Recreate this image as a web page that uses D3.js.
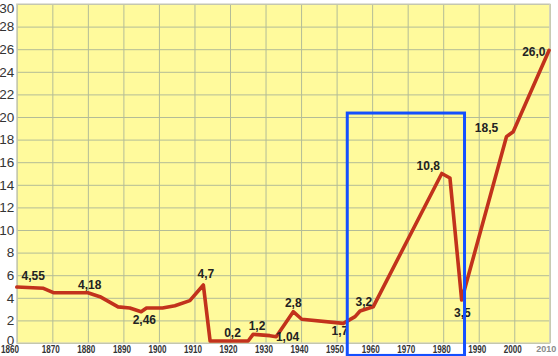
<!DOCTYPE html>
<html>
<head>
<meta charset="utf-8">
<script src="https://cdn.jsdelivr.net/npm/d3@7"></script>
<style>
  html, body { margin: 0; padding: 0; background: #ffffff; }
  svg { display: block; }
</style>
</head>
<body>
<svg id="chart" width="558" height="356"></svg>
<script>
// ---- data ----
const years  = [1860, 1867.5, 1870.3, 1880, 1883.4, 1888.5, 1891.8, 1895, 1896.5, 1901, 1904.5, 1908.7, 1912.5, 1914.4, 1925.1, 1926.5, 1931.2, 1933, 1937.8, 1940.2, 1951.9, 1955.2, 1956.6, 1960.3, 1979.6, 1981.9, 1985.2, 1997.8, 1999.7, 2009.8];
const values = [4.95, 4.84, 4.45, 4.45, 4.1, 3.2, 3.1, 2.77, 3.1, 3.1, 3.3, 3.75, 5.13, 0.18, 0.18, 0.77, 0.65, 0.56, 2.77, 2.1, 1.74, 2.33, 2.83, 3.2, 15.0, 14.6, 3.8, 18.26, 18.7, 25.9];

const labelTexts  = ["4,55", "4,18", "2,46", "4,7", "0,2", "1,2", "1,04", "2,8", "1,7", "3,2", "3,5", "10,8", "18,5", "26,0"];
const labelYears  = [1864.6, 1880.5, 1895.9, 1913.2, 1920.7, 1927.6, 1936.2, 1937.8, 1950.9, 1957.7, 1985.4, 1975.8, 1992.2, 2005.5];
const labelValues = [5.93, 5.13, 2.04, 6.08, 0.91, 1.5, 0.56, 3.51, 1.09, 3.65, 2.68, 15.69, 19.0, 25.78];

const xTickYears  = [1860, 1870, 1880, 1890, 1900, 1910, 1920, 1930, 1940, 1950, 1960, 1970, 1980, 1990, 2000, 2010];
const yTickValues = [0, 2, 4, 6, 8, 10, 12, 14, 16, 18, 20, 22, 24, 26, 28, 30];

const highlightYears  = [1953, 1986];
const highlightValues = [-1.1, 20.35];

// ---- layout ----
const svg = d3.select("#chart");
const x = d3.scaleLinear().domain([1860, 2010]).range([16.8, 549.8]);
const y = d3.scaleLinear().domain([0, 30]).range([343, 4]);

// plot background
svg.append("rect")
  .attr("x", x(1860)).attr("y", y(30))
  .attr("width", x(2010) - x(1860)).attr("height", y(0) - y(30))
  .attr("fill", "#fffa9c");

// grid
const grid = svg.append("g").attr("stroke", "#b3bc97").attr("stroke-width", 1);
grid.selectAll("line.h").data(yTickValues).join("line")
  .attr("x1", x(1860)).attr("x2", x(2010))
  .attr("y1", d => y(d) + 0.5).attr("y2", d => y(d) + 0.5);
grid.selectAll("line.v").data(xTickYears).join("line")
  .attr("y1", y(30)).attr("y2", y(0))
  .attr("x1", d => x(d) + 0.5).attr("x2", d => x(d) + 0.5);

// border
svg.append("rect")
  .attr("x", x(1860)).attr("y", y(30))
  .attr("width", x(2010) - x(1860)).attr("height", y(0) - y(30))
  .attr("fill", "none").attr("stroke", "#cfcfc0").attr("stroke-width", 1.2);

// y axis labels
const yAxis = d3.axisLeft(y).tickValues(yTickValues).tickSize(0).tickPadding(2).tickFormat(d3.format("d"));
const gy = svg.append("g").attr("transform", `translate(${x(1860) - 0.5},0)`).call(yAxis);
gy.select(".domain").remove();
gy.selectAll("text")
  .attr("font-family", "Liberation Sans, Arial, sans-serif")
  .attr("font-size", 13.5).attr("fill", "#333")
  .attr("dy", d => d === 30 ? "0.62em" : (d === 0 ? "0.12em" : "0.32em"));

// x axis labels
const xAxis = d3.axisBottom(x).tickValues(xTickYears).tickSize(0).tickPadding(2.5).tickFormat(d3.format("d"));
const gx = svg.append("g").attr("transform", `translate(0,${y(0)})`).call(xAxis);
gx.select(".domain").remove();
const xl = gx.selectAll("text")
  .attr("font-family", "Liberation Sans, Arial, sans-serif")
  .attr("font-weight", "bold")
  .attr("font-size", d => d === 2010 ? 9 : 10.5)
  .attr("fill", d => d === 2010 ? "#8a8a8a" : "#333")
  .attr("text-anchor", d => d === 1860 ? "start" : (d === 2010 ? "end" : "middle"))
  .attr("dx", d => d === 1860 ? -16.3 : (d === 2010 ? 6 : -2));
xl.filter(d => d !== 2010)
  .attr("textLength", 18).attr("lengthAdjust", "spacingAndGlyphs");

// line
const pts = years.map((yr, i) => [yr, values[i]]);
svg.append("path")
  .datum(pts)
  .attr("fill", "none")
  .attr("stroke", "#c2321c")
  .attr("stroke-width", 3.6)
  .attr("stroke-linejoin", "round")
  .attr("stroke-linecap", "round")
  .attr("d", d3.line().x(d => x(d[0])).y(d => y(d[1])));

// value labels
svg.append("g").selectAll("text").data(labelTexts).join("text")
  .attr("x", (d, i) => x(labelYears[i]))
  .attr("y", (d, i) => y(labelValues[i]))
  .attr("text-anchor", "middle")
  .attr("dominant-baseline", "central")
  .attr("font-family", "Liberation Sans, Arial, sans-serif")
  .attr("font-weight", "bold")
  .attr("font-size", 12)
  .attr("fill", "#222")
  .text(d => d);

// highlight box
svg.append("rect")
  .attr("x", x(highlightYears[0])).attr("y", y(highlightValues[1]))
  .attr("width", x(highlightYears[1]) - x(highlightYears[0]))
  .attr("height", y(highlightValues[0]) - y(highlightValues[1]))
  .attr("fill", "none")
  .attr("stroke", "#1450ff")
  .attr("stroke-width", 3);
</script>
</body>
</html>
